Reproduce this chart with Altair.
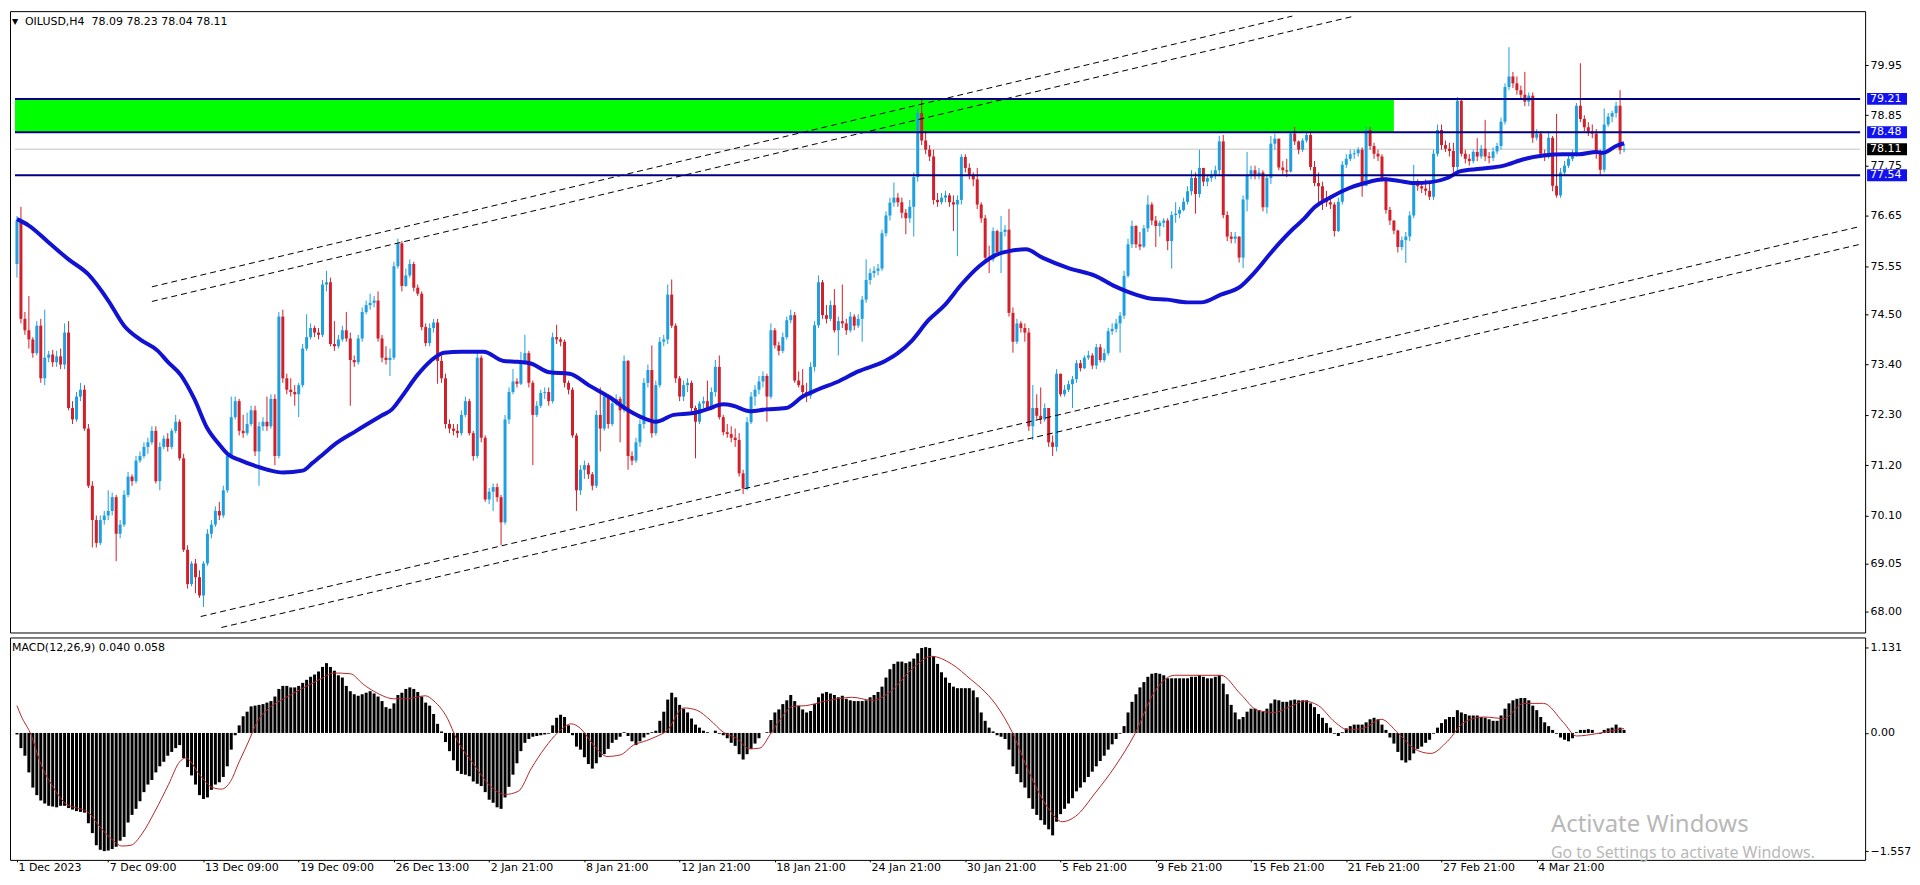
import altair as alt
import pandas as pd
import numpy as np

# ---------------- data ----------------
first_open = 75.60
closes = [
    76.55,74.40,74.15,73.95,73.65,74.25,73.10,73.55,73.62,73.45,
    73.58,73.40,74.10,72.45,72.20,72.70,72.85,72.00,70.75,70.00,
    69.50,70.00,70.10,70.20,70.50,69.70,69.90,70.55,70.95,70.85,
    71.30,71.40,71.60,71.70,71.95,70.85,71.60,71.78,71.60,71.95,
    72.15,71.35,69.35,68.60,69.05,68.75,68.35,69.05,69.70,69.90,
    70.20,70.10,70.65,71.40,72.25,72.60,71.95,71.90,72.10,72.40,
    71.50,72.05,72.15,72.05,72.65,71.40,74.45,73.10,72.85,72.80,
    72.75,72.95,73.75,74.00,74.20,74.10,74.05,75.15,75.20,73.85,
    73.80,73.95,74.15,73.97,73.50,73.45,73.97,74.55,74.70,74.75,
    74.80,73.97,73.55,73.50,73.55,75.55,76.05,75.12,75.35,75.60,
    75.08,74.95,74.22,73.87,74.20,74.32,73.48,73.10,72.10,72.00,
    71.95,71.90,72.30,72.60,71.90,71.40,73.55,71.80,70.45,70.62,
    70.72,70.50,69.95,72.20,72.80,73.03,72.98,73.45,73.65,73.00,
    72.30,72.50,72.78,72.80,72.60,74.00,73.95,73.90,73.00,72.85,
    71.85,70.65,71.10,71.20,71.00,70.75,72.30,72.00,72.70,72.10,
    72.55,72.65,72.40,73.48,71.40,71.30,71.70,72.10,73.00,73.28,
    71.90,72.95,73.90,73.95,74.93,74.25,73.10,72.70,72.95,73.00,
    72.45,72.15,72.55,72.60,72.45,72.80,73.35,72.25,71.92,71.88,
    71.80,71.75,71.02,70.69,72.14,72.70,72.85,73.03,73.15,72.70,
    74.15,73.82,73.70,74.00,74.37,74.48,73.05,72.95,72.80,72.72,
    73.35,74.26,75.20,74.48,74.40,74.70,74.15,74.35,74.30,74.15,
    74.45,74.25,74.40,74.82,75.25,75.40,75.45,75.50,76.27,76.66,
    76.94,77.05,76.95,76.72,76.60,76.85,77.50,78.90,78.30,78.10,
    77.95,77.00,76.95,77.05,77.10,76.95,76.90,77.00,77.94,77.70,
    77.55,77.45,76.90,76.60,75.74,75.70,76.32,75.86,76.30,76.35,
    74.53,73.90,74.30,74.20,74.10,72.05,72.45,72.28,72.20,72.45,
    71.70,71.60,73.20,72.75,72.85,72.97,73.08,73.43,73.32,73.55,
    73.60,73.38,73.78,73.50,73.65,74.13,74.18,74.30,74.47,75.34,
    76.03,76.43,76.03,75.98,76.38,76.90,76.55,76.43,76.50,76.55,
    76.10,76.67,76.70,76.78,76.96,77.19,77.48,77.13,77.70,77.40,
    77.48,77.55,77.65,78.28,76.67,76.20,76.15,76.20,75.74,77.01,
    77.53,77.65,77.55,77.60,76.84,77.48,78.23,78.34,77.71,77.65,
    77.62,78.45,78.28,78.10,78.30,78.42,77.72,77.37,77.30,77.00,
    76.95,76.90,76.32,76.96,77.77,77.90,78.00,78.02,78.10,77.31,
    78.53,78.18,78.01,77.95,77.48,76.78,76.55,76.33,75.97,76.12,
    76.20,76.66,77.37,77.30,77.25,77.20,77.07,78.01,78.53,78.20,
    78.12,78.07,77.72,79.17,78.01,77.90,77.85,78.05,77.95,78.12,
    77.95,77.92,78.06,78.18,78.71,79.47,79.70,79.55,79.40,79.30,
    79.15,79.28,78.36,78.45,78.01,77.95,78.36,77.31,77.10,77.60,
    77.75,77.90,78.01,79.06,78.77,78.59,78.50,78.45,78.01,77.66,
    78.65,78.82,78.90,79.06,78.09,78.11,
]
highs = [
    76.65,76.85,74.55,74.90,74.00,74.35,74.40,74.60,73.70,73.72,
    73.70,73.75,74.30,74.35,72.60,72.80,73.00,72.95,72.10,70.85,
    70.10,70.10,70.20,70.65,70.60,70.55,70.00,70.65,71.05,71.00,
    71.40,71.50,71.70,71.80,72.05,72.05,71.70,71.85,71.90,72.00,
    72.30,72.20,71.45,69.45,69.10,69.15,68.90,69.10,69.80,70.00,
    70.30,70.40,70.75,71.50,72.70,72.70,72.65,72.30,72.35,72.50,
    72.50,72.15,72.25,72.70,72.75,72.75,74.55,74.60,73.20,73.10,
    72.95,73.00,73.85,74.50,74.30,74.25,74.20,75.25,75.45,75.30,
    74.35,74.05,74.25,74.55,74.10,73.60,74.05,74.65,74.80,74.95,
    74.90,75.00,74.05,73.80,73.75,75.65,76.15,76.10,75.50,75.70,
    75.65,75.15,75.00,74.30,74.30,74.40,74.40,73.60,73.20,72.20,
    72.10,72.10,72.40,72.70,72.65,71.95,73.68,73.60,71.85,70.70,
    70.80,70.80,70.55,72.30,72.90,73.30,73.10,73.68,74.05,73.70,
    73.05,72.60,72.85,72.90,72.90,74.10,74.27,74.00,73.95,73.05,
    72.90,71.90,71.20,71.30,71.25,71.05,72.40,72.90,72.80,72.75,
    72.65,72.75,72.70,73.60,73.50,71.50,71.80,72.20,73.10,73.40,
    73.82,73.05,74.00,74.05,75.15,75.26,74.30,73.15,73.05,73.10,
    73.05,72.50,72.60,72.70,73.05,72.90,73.50,73.60,72.30,72.10,
    72.05,72.00,71.90,71.10,72.25,72.80,72.95,73.15,73.25,73.20,
    74.30,74.20,73.90,74.10,74.45,74.60,74.55,73.25,73.30,73.00,
    73.45,74.35,75.35,75.25,74.70,74.80,75.05,74.45,75.15,74.40,
    74.55,74.50,74.50,74.90,75.70,75.50,75.55,75.60,76.35,76.75,
    77.05,77.38,77.15,77.05,76.80,77.00,77.60,79.00,79.20,78.50,
    78.20,78.10,77.15,77.15,77.20,77.15,77.10,77.10,78.00,78.00,
    77.80,77.60,77.70,76.95,76.67,76.00,76.40,76.35,76.65,76.45,
    76.80,74.65,74.40,74.35,74.30,74.20,72.95,72.75,72.90,72.55,
    72.45,71.85,73.30,73.20,72.95,73.05,73.15,73.50,73.50,73.60,
    73.70,73.65,73.85,73.85,73.75,74.20,74.30,74.40,74.55,75.45,
    76.15,76.55,76.45,76.30,76.45,77.10,76.95,76.65,76.55,76.60,
    76.60,76.75,76.95,76.85,77.05,77.30,77.65,77.60,78.10,77.70,
    77.55,77.65,77.75,78.40,78.42,76.75,76.30,76.30,76.10,77.10,
    78.05,77.75,77.75,77.70,77.65,77.55,78.40,78.45,78.30,77.85,
    77.90,78.50,78.60,78.30,78.35,78.50,78.50,77.85,77.60,77.40,
    77.20,77.10,76.95,77.05,77.85,78.00,78.10,78.10,78.15,78.15,
    78.60,78.60,78.25,78.10,78.00,77.50,76.85,76.50,76.35,76.20,
    76.30,76.75,77.77,77.45,77.40,77.45,77.40,78.10,78.65,78.65,
    78.30,78.25,78.25,79.25,79.20,78.10,78.00,78.10,78.35,78.20,
    78.75,78.05,78.15,78.25,78.80,79.55,80.34,79.80,79.70,79.50,
    79.80,79.35,79.35,78.55,78.50,78.10,78.50,78.40,78.88,77.70,
    77.85,78.00,78.10,79.12,79.99,78.85,78.70,78.65,78.55,78.10,
    79.00,78.90,78.95,79.15,79.40,78.23,
]
lows = [
    75.30,74.30,74.05,73.75,73.55,73.60,73.00,72.95,73.45,73.35,
    73.35,73.30,73.30,72.40,72.10,72.15,72.60,71.95,70.70,69.40,
    69.40,69.45,69.90,70.00,70.10,69.10,69.60,69.85,70.50,70.75,
    70.80,71.25,71.35,71.45,71.65,70.80,70.65,71.55,71.50,71.55,
    71.90,71.30,69.30,68.50,68.55,68.40,68.30,68.10,69.00,69.60,
    69.85,70.00,70.05,70.60,71.35,72.20,71.85,71.80,71.85,72.05,
    71.40,70.75,71.95,71.95,72.00,71.20,71.35,73.00,72.75,72.70,
    72.50,72.25,72.90,73.70,73.95,74.00,73.95,74.00,75.00,73.80,
    73.70,73.75,73.90,73.90,72.50,73.35,73.40,73.90,74.50,74.60,
    74.65,73.90,73.45,73.40,73.15,73.50,75.50,75.00,75.10,75.30,
    75.00,74.90,74.15,73.80,73.80,74.10,72.98,73.00,72.00,71.90,
    71.85,71.80,71.85,72.25,71.85,71.30,71.35,71.70,70.40,70.35,
    70.20,70.40,69.45,69.90,72.10,72.75,72.90,72.95,73.40,72.90,
    71.20,72.25,72.45,72.65,72.50,72.55,73.85,73.80,72.90,72.75,
    71.80,70.20,70.55,70.90,70.90,70.65,70.70,71.50,71.95,72.00,
    72.05,72.50,71.70,72.35,71.10,71.20,71.25,71.60,72.00,72.90,
    71.80,71.85,72.90,73.80,73.85,74.20,73.00,72.60,72.60,72.80,
    72.35,71.35,72.10,72.45,72.40,72.40,72.70,72.20,71.85,71.80,
    71.70,71.60,70.95,70.57,70.65,72.10,72.50,72.75,72.90,72.15,
    72.65,73.75,73.60,73.65,73.95,74.30,73.00,72.90,72.70,72.58,
    72.65,73.25,74.20,74.40,74.30,74.35,74.10,73.60,74.20,74.05,
    74.10,74.15,74.20,73.90,74.75,75.15,75.30,75.35,75.45,76.20,
    76.55,76.85,76.85,76.60,76.25,76.50,76.20,77.40,78.20,78.00,
    77.85,76.90,76.85,76.90,76.95,76.85,76.32,75.77,76.90,77.60,
    77.45,77.30,76.80,76.50,75.65,75.40,75.65,75.80,75.40,76.20,
    74.45,73.66,73.85,74.10,73.90,71.95,71.75,72.20,72.10,72.15,
    71.60,71.40,71.50,72.70,72.70,72.80,72.45,73.00,73.25,73.30,
    73.50,73.30,73.30,73.45,73.45,73.60,74.05,74.10,73.66,74.40,
    75.30,75.95,75.95,75.90,75.95,76.30,76.45,75.97,76.20,76.40,
    75.90,75.50,76.50,76.60,76.75,76.90,77.10,76.70,77.05,77.30,
    77.30,77.40,77.45,77.55,76.60,76.10,76.05,76.05,75.63,75.51,
    76.75,77.45,77.45,77.45,76.75,76.70,77.35,78.10,77.65,77.55,
    77.50,77.60,78.20,78.00,78.05,78.25,77.65,77.30,76.95,76.78,
    76.85,76.80,76.20,76.30,76.90,77.70,77.85,77.90,77.95,77.07,
    77.30,78.10,77.90,77.85,77.40,76.70,76.45,76.25,75.85,75.90,
    75.62,76.10,76.60,77.20,77.15,77.10,77.00,77.00,77.95,78.10,
    78.05,77.95,77.60,77.65,77.95,77.80,77.75,77.80,77.85,77.90,
    77.85,77.80,77.85,78.00,78.10,78.65,79.40,79.45,79.30,79.20,
    79.05,79.05,78.25,78.30,77.95,77.85,77.90,77.19,77.05,77.05,
    77.55,77.70,77.85,77.95,78.70,78.50,78.40,78.35,77.90,77.55,
    77.60,78.60,78.70,78.80,78.00,78.04,
]
macd_main = [
    -0.02,-0.20,-0.30,-0.52,-0.72,-0.82,-0.89,-0.93,-0.96,-0.97,
    -0.98,-0.96,-0.96,-0.99,-1.01,-1.03,-1.04,-1.05,-1.19,-1.32,
    -1.48,-1.54,-1.557,-1.55,-1.53,-1.50,-1.42,-1.37,-1.18,-1.08,
    -1.00,-0.90,-0.78,-0.68,-0.62,-0.52,-0.44,-0.38,-0.30,-0.25,
    -0.20,-0.16,-0.33,-0.45,-0.56,-0.68,-0.82,-0.87,-0.85,-0.75,
    -0.68,-0.65,-0.58,-0.44,-0.22,-0.03,0.10,0.22,0.28,0.35,
    0.36,0.37,0.38,0.40,0.42,0.48,0.58,0.62,0.62,0.60,
    0.60,0.62,0.66,0.70,0.74,0.77,0.81,0.87,0.92,0.87,
    0.82,0.76,0.73,0.62,0.55,0.51,0.49,0.51,0.53,0.55,
    0.52,0.48,0.42,0.34,0.32,0.39,0.50,0.53,0.58,0.60,
    0.58,0.54,0.48,0.40,0.36,0.25,0.12,0.02,-0.12,-0.24,
    -0.36,-0.50,-0.54,-0.55,-0.57,-0.64,-0.67,-0.70,-0.78,-0.88,
    -0.92,-0.98,-1.00,-0.85,-0.71,-0.55,-0.40,-0.24,-0.13,-0.08,
    -0.05,-0.04,-0.03,-0.02,-0.01,0.10,0.20,0.24,0.21,0.10,
    -0.03,-0.18,-0.22,-0.32,-0.41,-0.47,-0.40,-0.32,-0.28,-0.21,
    -0.13,-0.09,-0.05,0.01,-0.04,-0.11,-0.16,-0.11,-0.06,-0.02,
    0.01,0.03,0.16,0.28,0.44,0.53,0.47,0.37,0.32,0.27,
    0.19,0.11,0.07,0.03,0.01,0.00,0.03,-0.01,-0.03,-0.07,
    -0.13,-0.17,-0.28,-0.35,-0.28,-0.21,-0.14,-0.07,0.00,0.01,
    0.17,0.27,0.31,0.38,0.43,0.50,0.42,0.36,0.31,0.27,
    0.29,0.38,0.47,0.52,0.54,0.52,0.50,0.47,0.49,0.45,
    0.43,0.42,0.42,0.42,0.43,0.47,0.50,0.54,0.61,0.73,
    0.84,0.91,0.94,0.94,0.92,0.94,0.98,1.05,1.12,1.131,
    1.12,1.01,0.91,0.80,0.73,0.66,0.61,0.59,0.59,0.59,
    0.59,0.56,0.47,0.27,0.16,0.07,0.02,-0.03,-0.05,-0.08,
    -0.22,-0.44,-0.54,-0.65,-0.72,-0.86,-1.00,-1.08,-1.15,-1.21,
    -1.27,-1.35,-1.17,-1.07,-1.00,-0.93,-0.86,-0.77,-0.72,-0.65,
    -0.58,-0.51,-0.44,-0.37,-0.30,-0.22,-0.15,-0.08,-0.01,0.09,
    0.27,0.41,0.51,0.60,0.67,0.74,0.78,0.79,0.78,0.76,
    0.72,0.72,0.72,0.72,0.72,0.72,0.74,0.74,0.76,0.74,
    0.72,0.72,0.74,0.76,0.65,0.51,0.37,0.27,0.18,0.21,
    0.28,0.32,0.32,0.30,0.28,0.32,0.39,0.44,0.43,0.41,
    0.41,0.43,0.44,0.43,0.43,0.43,0.39,0.34,0.25,0.20,
    0.13,0.07,-0.01,-0.04,0.01,0.06,0.09,0.11,0.11,0.11,
    0.14,0.18,0.20,0.18,0.11,0.04,-0.06,-0.14,-0.25,-0.36,
    -0.39,-0.36,-0.27,-0.21,-0.18,-0.13,-0.09,-0.01,0.07,0.13,
    0.18,0.21,0.21,0.30,0.27,0.25,0.23,0.23,0.23,0.21,
    0.20,0.18,0.16,0.16,0.23,0.32,0.39,0.43,0.45,0.46,
    0.46,0.43,0.36,0.30,0.21,0.14,0.09,0.04,-0.01,-0.06,
    -0.09,-0.11,-0.07,0.01,0.04,0.04,0.05,0.04,0.00,-0.01,
    0.04,0.06,0.07,0.11,0.07,0.04,
]
signal_idx = [0, 1, 3.6, 5.8, 9.2, 12.5, 15.9, 18.1, 20.3, 23.7, 26.5, 28.7, 31.5, 34.8, 38.2,
              41, 42.6, 46, 49.3, 51.6, 53.8, 56, 58.3, 60.5, 63.8, 67.2, 71.7, 76.1, 80, 84,
              87.3, 90.6, 95.1, 98.4, 102.9, 105.1, 108.5, 110.7, 115.2, 119.7, 123, 126.3,
              129.7, 133, 136.4, 139.7, 142, 145.3, 148.7, 152, 155.4, 158.7, 161, 163.8, 168,
              171.3, 174.7, 178, 181.3, 184.7, 187.2, 189.7, 192.2, 195.5, 198.8, 203.8, 210.5,
              215.5, 220.5, 225.5, 230.5, 235.5, 240.5, 243, 246.75, 251, 255, 260, 263.4,
              266.75, 271.75, 276.75, 281.75, 286.75, 291.75, 298.4, 303.4, 308.4, 312.6,
              316.75, 321.75, 324.25, 328, 332.2, 335.5, 339.7, 343.8, 348, 352.2, 356.3,
              360.5, 364.7, 369.7, 374.7, 379.7, 384.7, 389.7, 393, 398, 403, 405]
signal_val = [0.36, 0.23, -0.03, -0.38, -0.72, -0.94, -1.00, -1.05, -1.20, -1.39, -1.49, -1.48,
              -1.33, -1.03, -0.68, -0.38, -0.33, -0.55, -0.72, -0.74, -0.64, -0.38, -0.12, 0.14,
              0.34, 0.45, 0.58, 0.70, 0.79, 0.78, 0.64, 0.53, 0.45, 0.45, 0.49, 0.42, 0.19,
              -0.07, -0.42, -0.72, -0.81, -0.77, -0.46, -0.20, 0.01, 0.12, 0.06, -0.16, -0.31,
              -0.29, -0.16, -0.10, -0.05, 0.03, 0.33, 0.30, 0.17, 0.01, -0.07, -0.21, -0.20,
              -0.03, 0.17, 0.35, 0.36, 0.42, 0.47, 0.43, 0.56, 0.84, 1.01, 0.91, 0.70, 0.59,
              0.37, -0.01, -0.51, -1.00, -1.17, -1.10, -0.79, -0.44, -0.01, 0.55, 0.76, 0.76,
              0.76, 0.51, 0.30, 0.27, 0.37, 0.42, 0.36, 0.14, 0.04, 0.07, 0.18, 0.00, -0.21,
              -0.27, -0.11, 0.14, 0.21, 0.19, 0.39, 0.39, 0.14, -0.04, -0.01, 0.04, 0.058]
ma_idx = [0, 3, 8, 13, 18, 23, 27, 31, 35.5, 38, 41.3, 44.7, 48, 51, 53, 56.5, 60.5, 64, 67,
          72, 74.5, 77, 80, 85.5, 92, 94.5, 97, 101, 104.25, 107.6, 112, 117.6, 122.6, 126,
          129.25, 134.25, 139.25, 144.25, 149.25, 154.25, 157.6, 161, 165.5, 170.5, 173.8,
          178, 180.5, 184.7, 188.8, 193.8, 198, 202, 207, 212, 218.8, 222, 225.5, 229.7,
          233.8, 238, 242.5, 246.75, 250, 254.25, 258.4, 265, 271.75, 276.75, 280, 286, 290,
          295, 298.4, 303.4, 308.4, 311.75, 316.75, 321.75, 324.25, 327, 331.3, 335.5, 339.7,
          344.7, 348, 352, 356.3, 360.5, 363.8, 368.8, 374.7, 379.7, 384.7, 389.7, 393.8,
          398, 399.7, 403, 405]
ma_val = [76.58, 76.44, 76.07, 75.70, 75.37, 74.80, 74.25, 73.95, 73.70, 73.46, 73.17, 72.65,
          72.00, 71.65, 71.45, 71.30, 71.17, 71.08, 71.04, 71.08, 71.25, 71.43, 71.65, 71.95,
          72.29, 72.42, 72.70, 73.18, 73.48, 73.66, 73.68, 73.68, 73.48, 73.46, 73.43, 73.23,
          73.20, 72.94, 72.69, 72.39, 72.24, 72.15, 72.30, 72.34, 72.42, 72.53, 72.50, 72.38,
          72.42, 72.45, 72.70, 72.86, 73.03, 73.25, 73.48, 73.65, 73.92, 74.37, 74.70, 75.15,
          75.55, 75.80, 75.88, 75.92, 75.74, 75.51, 75.34, 75.11, 74.99, 74.84, 74.82, 74.76,
          74.76, 74.93, 75.11, 75.40, 75.92, 76.38, 76.58, 76.84, 77.07, 77.25, 77.37, 77.45,
          77.42, 77.37, 77.39, 77.48, 77.63, 77.68, 77.75, 77.89, 77.97, 78.00, 78.00, 78.05,
          78.03, 78.18, 78.24]

level_prices = [79.21, 78.48, 77.54]
last_price = 78.11
zone_low, zone_high, zone_end_bar = 78.48, 79.21, 347
channel_x1 = [34, 34, 46.3, 51.5]
channel_y1 = [75.10, 74.78, 67.89, 67.65]
channel_x2 = [321.4, 337, 464.5, 464.5]
channel_y2 = [81.02, 81.02, 76.42, 76.03]

price_ticks = [79.95, 78.85, 77.75, 76.65, 75.55, 74.50, 73.40, 72.30, 71.20, 70.10, 69.05, 68.00]
macd_ticks = [1.131, 0.0, -1.557]
time_idx = [0, 23, 47, 71, 95, 119, 143, 167, 191, 215, 239, 263, 287, 311, 335, 359, 383]
time_labels = ["1 Dec 2023", "7 Dec 09:00", "13 Dec 09:00", "19 Dec 09:00", "26 Dec 13:00",
               "2 Jan 21:00", "8 Jan 21:00", "12 Jan 21:00", "18 Jan 21:00", "24 Jan 21:00",
               "30 Jan 21:00", "5 Feb 21:00", "9 Feb 21:00", "15 Feb 21:00", "21 Feb 21:00",
               "27 Feb 21:00", "4 Mar 21:00"]
header_text = "OILUSD,H4\u00a0\u00a078.09 78.23 78.04 78.11"
macd_header = "MACD(12,26,9) 0.040 0.058"
watermark = ["Activate Windows", "Go to Settings to activate Windows."]

# ---------------- build ----------------
n = len(closes)
assert n == 406 and len(highs) == n and len(lows) == n and len(macd_main) == n
assert len(signal_idx) == len(signal_val) and len(ma_idx) == len(ma_val)

opens = [first_open] + closes[:-1]
candles = pd.DataFrame({"i": list(range(n)), "o": opens, "c": closes, "h": highs, "l": lows})
candles["hi"] = candles[["h", "o", "c"]].max(axis=1)
candles["lo"] = candles[["l", "o", "c"]].min(axis=1)
candles["dir"] = np.where(candles["c"] >= candles["o"], "up", "down")

W, H1, H2 = 1860, 623, 223
X0, X1 = -0.5, 464.5
FONT = "DejaVu Sans"
xs = alt.Scale(domain=[X0, X1], nice=False, zero=False)
ys = alt.Scale(domain=[67.65, 81.02], nice=False, zero=False)
ms = alt.Scale(domain=[-1.673, 1.258], nice=False, zero=False)

price_axis = alt.Axis(orient="right", values=price_ticks, format=".2f", tickSize=3,
                      tickColor="black", domain=False, grid=False, labelPadding=2,
                      labelFont=FONT, labelFontSize=11, labelColor="black",
                      labelOverlap=False, labelFlush=False, title=None)
labels_js = "[" + ",".join("'" + s + "'" for s in time_labels) + "]"
idx_js = "[" + ",".join(str(v) for v in time_idx) + "]"
time_axis = alt.Axis(orient="bottom", values=time_idx,
                     labelExpr=labels_js + "[indexof(" + idx_js + ", datum.value)]",
                     labelAlign="left", labelOffset=1, tickSize=2, tickColor="black",
                     domain=False, grid=False, labelPadding=0, labelFont=FONT,
                     labelFontSize=11, labelColor="black", labelOverlap=False,
                     labelFlush=False, title=None)
macd_axis = alt.Axis(orient="right", values=macd_ticks,
                     labelExpr="datum.value == 0 ? '0.00' : format(datum.value, '.3f')",
                     tickSize=3, tickColor="black", domain=False, grid=False, labelPadding=2,
                     labelFont=FONT, labelFontSize=11, labelColor="black",
                     labelOverlap=False, labelFlush=False, title=None)


def PX(f):
    return alt.X(f + ":Q", scale=xs, axis=None)


def PY(f):
    return alt.Y(f + ":Q", scale=ys, axis=price_axis)


def MX(f):
    return alt.X(f + ":Q", scale=xs, axis=time_axis)


def MY(f):
    return alt.Y(f + ":Q", scale=ms, axis=macd_axis)


candle_color = alt.Color("dir:N", scale=alt.Scale(domain=["up", "down"],
                                                  range=["#1e9fe0", "#d2202a"]), legend=None)

zone = alt.Chart(pd.DataFrame({"x1": [X0], "x2": [zone_end_bar], "y1": [zone_low],
                               "y2": [zone_high]})).mark_rect(color="#00ff00").encode(
    x=PX("x1"), x2="x2", y=PY("y1"), y2="y2")
lastline = alt.Chart(pd.DataFrame({"x1": [X0], "x2": [X1], "p": [last_price]})).mark_rule(
    color="#c4c4c4", strokeWidth=1).encode(x=PX("x1"), x2="x2", y=PY("p"))
wicks = alt.Chart(candles).mark_rule(strokeWidth=1).encode(
    x=PX("i"), y=PY("lo"), y2="hi", color=candle_color)
bodies = alt.Chart(candles).mark_bar(size=3).encode(
    x=PX("i"), y=PY("o"), y2="c", color=candle_color)
ma = alt.Chart(pd.DataFrame({"i": ma_idx, "v": ma_val})).mark_line(
    color="#1212d2", strokeWidth=4, interpolate="monotone").encode(x=PX("i"), y=PY("v"))
channels = alt.Chart(pd.DataFrame({"x1": channel_x1, "y1": channel_y1, "x2": channel_x2,
                                   "y2": channel_y2})).mark_rule(
    color="black", strokeWidth=1, strokeDash=[6, 4]).encode(
    x=PX("x1"), x2="x2", y=PY("y1"), y2="y2")
levels = alt.Chart(pd.DataFrame({"x1": [X0] * 3, "x2": [X1] * 3, "p": level_prices})).mark_rule(
    color="#000080", strokeWidth=2).encode(x=PX("x1"), x2="x2", y=PY("p"))
box_blue = alt.Chart(pd.DataFrame({"p": level_prices})).mark_bar(
    color="#1212f0", size=12, orient="horizontal").encode(
    x=alt.value(W + 2), x2=alt.value(W + 42), y=PY("p"))
box_black = alt.Chart(pd.DataFrame({"p": [last_price]})).mark_bar(
    color="black", size=12, orient="horizontal").encode(
    x=alt.value(W + 2), x2=alt.value(W + 42), y=PY("p"))
box_text = alt.Chart(pd.DataFrame({"p": level_prices + [last_price]})).mark_text(
    align="left", baseline="middle", color="white", font=FONT, fontSize=11).encode(
    x=alt.value(W + 5), y=PY("p"), text=alt.Text("p:Q", format=".2f"))
tri = alt.Chart(pd.DataFrame({"t": ["\u25bc"]})).mark_text(
    align="left", baseline="middle", font=FONT, fontSize=8, color="black").encode(
    x=alt.value(2), y=alt.value(11), text="t:N")
head = alt.Chart(pd.DataFrame({"t": [header_text]})).mark_text(
    align="left", baseline="middle", font=FONT, fontSize=11, color="black").encode(
    x=alt.value(15), y=alt.value(11), text="t:N")

main = alt.layer(zone, lastline, wicks, bodies, ma, channels, levels,
                 box_blue, box_black, box_text, tri, head).properties(width=W, height=H1)

macd_df = pd.DataFrame({"i": list(range(n)), "v": macd_main, "z": [0.0] * n})
hist = alt.Chart(macd_df).mark_bar(size=3, color="black").encode(
    x=MX("i"), y=MY("v"), y2="z")
sig = alt.Chart(pd.DataFrame({"i": signal_idx, "v": signal_val})).mark_line(
    color="#b3262a", strokeWidth=1, interpolate="monotone").encode(x=MX("i"), y=MY("v"))
mhead = alt.Chart(pd.DataFrame({"t": [macd_header]})).mark_text(
    align="left", baseline="middle", font=FONT, fontSize=11, color="black").encode(
    x=alt.value(2), y=alt.value(11), text="t:N")
wm1 = alt.Chart(pd.DataFrame({"t": [watermark[0]]})).mark_text(
    align="left", baseline="middle", font="Noto Sans", fontSize=24, color="#b8b8b8").encode(
    x=alt.value(1545), y=alt.value(188), text="t:N")
wm2 = alt.Chart(pd.DataFrame({"t": [watermark[1]]})).mark_text(
    align="left", baseline="middle", font="Noto Sans", fontSize=16, color="#b8b8b8").encode(
    x=alt.value(1545), y=alt.value(216), text="t:N")

macd = alt.layer(hist, sig, mhead, wm1, wm2).properties(width=W, height=H2)

chart = alt.vconcat(main, macd, spacing=3).properties(
    padding={"left": 0, "top": 1, "right": 0, "bottom": 0}, background="white"
).configure_view(stroke="black", strokeWidth=1)

chart.save("out.html", embed_options={"renderer": "svg", "actions": False})
